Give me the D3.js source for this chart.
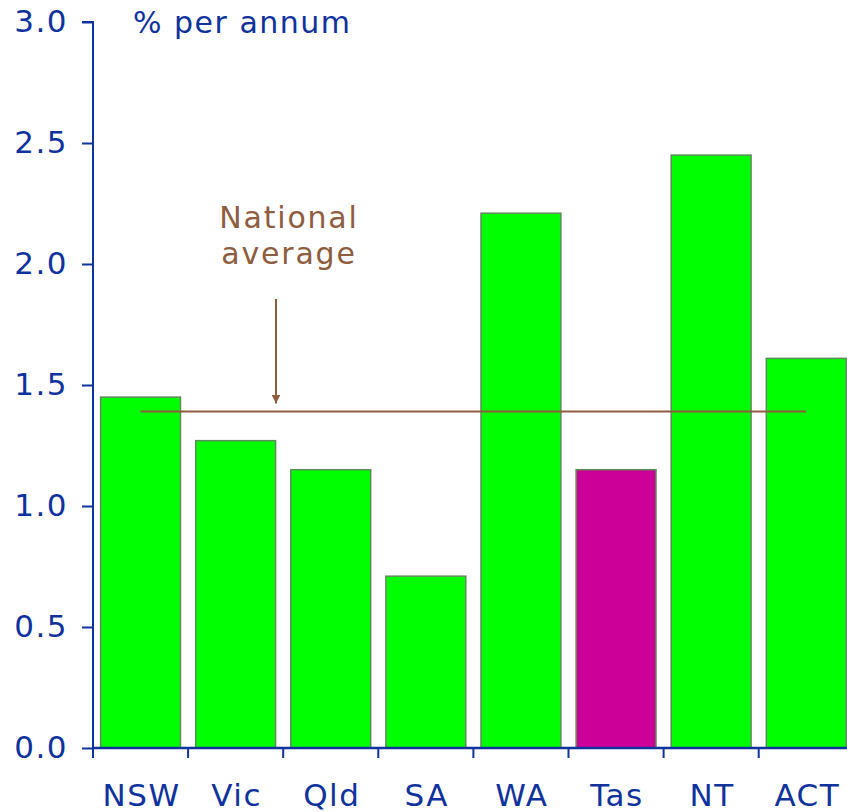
<!DOCTYPE html>
<html><head><meta charset="utf-8">
<script src="https://cdn.jsdelivr.net/npm/d3@7"></script>
<style>body{margin:0;background:#fff}svg{display:block}text{font-family:"DejaVu Sans",Verdana,sans-serif}</style>
</head><body><svg id="c" width="847" height="812"></svg>
<script>
const categories = ["NSW","Vic","Qld","SA","WA","Tas","NT","ACT"];
const values = [1.45,1.27,1.15,0.71,2.21,1.15,2.45,1.61];
const colors = ["#00ff00","#00ff00","#00ff00","#00ff00","#00ff00","#cc0099","#00ff00","#00ff00"];
const nationalAverage = 1.39;
const yTicks = [0,0.5,1,1.5,2,2.5,3];
const unitLabel = "% per annum";
const annotation = ["National","average"];

const blue = "#0f329c", brown = "#8e5c3e";
const svg = d3.select("#c");
const x0 = 93, step = 95.1;
const x = d3.scaleBand().domain(categories).range([x0, x0 + step*categories.length]).paddingInner(0.16).paddingOuter(0.08);
const y = d3.scaleLinear().domain([0,3]).range([748,22]);

// bars
svg.append("g").selectAll("rect").data(categories).join("rect")
  .attr("x", d=>x(d)).attr("width", x.bandwidth())
  .attr("y", (d,i)=>y(values[i])).attr("height",(d,i)=>y(0)-y(values[i]))
  .attr("fill",(d,i)=>colors[i]).attr("stroke","#5f8a5a").attr("stroke-width",1.5);

// y axis
const ya = svg.append("g").attr("transform",`translate(${x0},0)`)
  .call(d3.axisLeft(y).tickValues(yTicks).tickFormat(d3.format(".1f")).tickSize(11).tickPadding(14));
ya.select(".domain").attr("stroke",blue).attr("stroke-width",2).attr("d",`M-11,${y(3)}H0V${y(0)}`);
ya.selectAll(".tick line").attr("stroke",blue).attr("stroke-width",2);
ya.selectAll(".tick text").attr("fill",blue).attr("font-size",31).attr("letter-spacing",1.5).attr("font-family","DejaVu Sans");

// x axis
const xa = svg.append("g").attr("transform",`translate(0,${y(0)})`);
xa.append("line").attr("x1",x0).attr("x2",847).attr("stroke",blue).attr("stroke-width",2.5);
const bounds = d3.range(categories.length).map(i=>x0 + i*x.step());
xa.selectAll(".bt").data(bounds).join("line").attr("x1",d=>d).attr("x2",d=>d).attr("y1",0).attr("y2",10)
  .attr("stroke",blue).attr("stroke-width",2);
xa.selectAll(".lab").data(categories).join("text").attr("x",d=>x(d)+x.bandwidth()/2+1).attr("y",58)
  .attr("text-anchor","middle").attr("fill",blue).attr("font-size",31).attr("letter-spacing",1.5).text(d=>d);

// unit label
svg.append("text").attr("x",133).attr("y",33).attr("fill",blue).attr("font-size",30).attr("letter-spacing",1.5).text(unitLabel);

// national average line
const cx = d=>x(d)+x.bandwidth()/2;
svg.append("line").attr("x1",cx(categories[0])).attr("x2",cx(categories[categories.length-1]))
  .attr("y1",y(nationalAverage)).attr("y2",y(nationalAverage)).attr("stroke",brown).attr("stroke-width",2);

// annotation
svg.append("defs").append("marker").attr("id","ah").attr("viewBox","0 0 10 10").attr("refX",10).attr("refY",5)
  .attr("markerWidth",9).attr("markerHeight",12).attr("markerUnits","userSpaceOnUse").attr("orient","auto")
  .append("path").attr("d","M0,0L10,5L0,10z").attr("fill",brown);
svg.append("line").attr("x1",276).attr("x2",276).attr("y1",299).attr("y2",y(nationalAverage)-8)
  .attr("stroke",brown).attr("stroke-width",2).attr("marker-end","url(#ah)");
svg.append("text").attr("x",289).attr("y",228).attr("text-anchor","middle").attr("fill",brown).attr("font-size",30).attr("letter-spacing",1.8)
  .selectAll("tspan").data(annotation).join("tspan").attr("x",289).attr("dy",(d,i)=>i?36:0).text(d=>d);
</script></body></html>
